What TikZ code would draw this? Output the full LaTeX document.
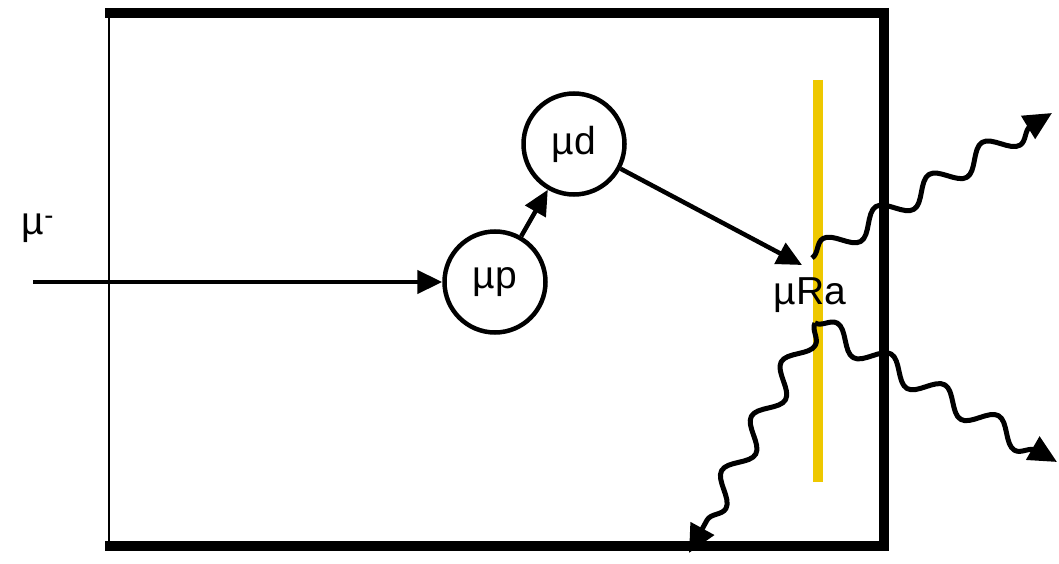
\documentclass[tikz,border=0pt]{standalone}
\usepackage{fontspec}
\setmainfont{Liberation Sans}
\usetikzlibrary{arrows.meta,decorations.pathmorphing}
\definecolor{foil}{RGB}{238,200,0}
\tikzset{
  state/.style={circle, draw, line width=4.5pt, minimum size=101pt, inner sep=0pt,
                font=\fontsize{39}{46}\selectfont},
  lbl/.style={font=\fontsize{39}{46}\selectfont, inner sep=0pt},
  flow/.style={line width=4.5pt, -{Triangle[length=25pt,width=23pt]}},
  photon/.style={line width=5pt, line join=round,
                 decorate, decoration={snake, amplitude=11pt, segment length=62pt, post length=8pt},
                 -{Triangle[length=28pt,width=26pt]}},
}
\begin{document}
\begin{tikzpicture}[x=1pt, y=-1pt]
  \useasboundingbox (0,0) rectangle (1059,564);
  % target frame
  \draw[line width=2pt] (109,13) -- (109,546);
  \draw[line width=10pt] (105,13) -- (889,13);
  \draw[line width=10pt] (105,546) -- (889,546);
  \draw[line width=10pt] (884,8) -- (884,551);
  % radium foil
  \draw[foil, line width=10pt] (817.5,80) -- (817.5,482);

  % states
  \node[state] (up) at (495,282) {µp};
  \node[state] (ud) at (574,144) {µd};
  \node[lbl, anchor=base] (ura) at (810,304) {µRa};
  \node[lbl, anchor=base] (mu) at (38,234) {µ\textsuperscript{-}};

  \coordinate (in) at (33,282);
  \coordinate (ratip) at (802,265);

  \draw[flow] (in) -- (up);
  \draw[flow] (up) -- (ud);
  \draw[flow] (ud) -- (ratip);

  % emitted photons
  \coordinate (g1s) at (812,258);
  \coordinate (g1e) at (1052,113);
  \coordinate (g2s) at (815,323);
  \coordinate (g2e) at (1057,462);
  \coordinate (g3e) at (689,553);
  \draw[photon] (g1s) -- (g1e);
  \draw[photon] (g2s) -- (g2e);
  \draw[photon] (g2s) -- (g3e);
\end{tikzpicture}
\end{document}
